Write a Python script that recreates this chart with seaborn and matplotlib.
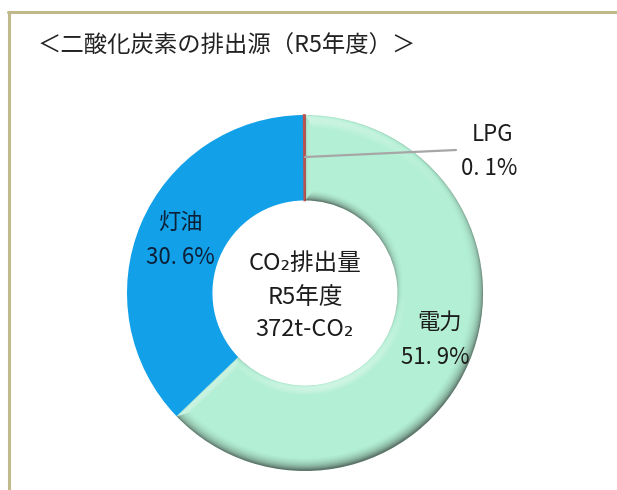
import numpy as np
import matplotlib
matplotlib.use("Agg")
import matplotlib.pyplot as plt
from matplotlib.lines import Line2D
import seaborn as sns

# Sources of CO2 emissions, fiscal R5 (percent of total)
sources = ["電力", "灯油", "LPG"]
shares = [51.9, 30.6, 0.1]
share_labels = ["51. 9%", "30. 6%", "0. 1%"]
colors = ["#b2efd4", "#12a0e8", "#c0504d"]

title = "＜二酸化炭素の排出源（R5年度）＞"
center_lines = ["CO₂排出量", "R5年度", "372t-CO₂"]

sns.set_theme(style="white")
plt.rcParams["font.family"] = ["Noto Sans CJK JP", "DejaVu Sans"]

W, H = 617, 490
fig = plt.figure(figsize=(W / 100, H / 100), dpi=100)
fig.patch.set_facecolor("white")

# donut placement (pixels): centre and outer radius
cx, cy, R = 305, 293, 178
ax = fig.add_axes([(cx - R) / W, (H - cy - R) / H, 2 * R / W, 2 * R / H])
ax.set_axis_off()

ring_width = 0.48
wedges, _ = ax.pie(
    shares,
    colors=colors,
    startangle=90,
    counterclock=False,
    radius=1.0,
    wedgeprops=dict(width=ring_width, linewidth=0),
)
# make the tiny LPG slice visible as a thin line
wedges[2].set_edgecolor(colors[2])
wedges[2].set_linewidth(1.2)
ax.set_xlim(-1, 1)
ax.set_ylim(-1, 1)
ax.set_aspect("equal")

# bevel shading on the electricity wedge
r_in = 1.0 - ring_width
theta1, theta2 = wedges[0].theta1, wedges[0].theta2
n = 700
g = np.linspace(-1.02, 1.02, n)
X, Y = np.meshgrid(g, g)
r = np.hypot(X, Y) + 1e-9
ux, uy = X / r, Y / r

bo, bi, be = 0.075, 0.06, 0.045
t_out = np.clip((r - (1.0 - bo)) / bo, 0, 1)
t_in = np.clip(((r_in + bi) - r) / bi, 0, 1)


def end_band(theta_b, sign):
    """Bevel band along one radial end of the wedge (half-line only)."""
    th = np.deg2rad(theta_b)
    ex, ey = np.cos(th), np.sin(th)
    px, py = -ey * sign, ex * sign
    d = -(X * px + Y * py)
    along = X * ex + Y * ey
    t = np.clip((be - d) / be, 0, 1) * (d >= -0.01) * (along > 0)
    return t, px, py


t_e1, p1x, p1y = end_band(theta1, -1)
t_e2, p2x, p2y = end_band(theta2, 1)

tx = np.zeros_like(r)
hx = np.zeros_like(r)
hy = np.zeros_like(r)
ones = np.ones_like(r)
for t, vx, vy in [(t_out, ux, uy), (t_in, -ux, -uy),
                  (t_e1, p1x * ones, p1y * ones),
                  (t_e2, p2x * ones, p2y * ones)]:
    m = t > tx
    tx = np.where(m, t, tx)
    hx = np.where(m, vx, hx)
    hy = np.where(m, vy, hy)

phi = np.arcsin(np.clip(tx, 0, 1) ** 1.3)
nx, ny, nz = np.sin(phi) * hx, np.sin(phi) * hy, np.cos(phi)
L = np.array([-0.25, 0.8, 1.0])
L = L / np.linalg.norm(L)
diff = nx * L[0] + ny * L[1] + nz * L[2] - L[2]

rgba = np.zeros((n, n, 4))
dark = diff < 0
rgba[..., :3] = np.where(dark[..., None], 0.15, 1.0)
rgba[..., 3] = np.where(dark, np.clip(-diff * 0.6, 0, 0.62), np.clip(diff * 1.6, 0, 0.75))
im = ax.imshow(rgba, extent=(-1.02, 1.02, -1.02, 1.02), origin="lower",
               interpolation="bilinear", zorder=3)
im.set_clip_path(wedges[0])


def d(px, py):
    return (px - cx) / R, (cy - py) / R


txt = dict(color="#1c1c1c", fontsize=16, ha="center", va="center", zorder=5)

# slice labels
ax.text(*d(440, 322), sources[0], **txt)
ax.text(*d(435, 357), share_labels[0], **txt)
ax.text(*d(180, 222), sources[1], **{**txt, "color": "#0c2038"})
ax.text(*d(180, 257), share_labels[1], **{**txt, "color": "#0c2038"})
ax.text(*d(493, 134), sources[2], clip_on=False, **txt)
ax.text(*d(489, 168), share_labels[2], clip_on=False, **txt)

# leader line for the LPG slice
x0, y0 = d(305, 157)
x1, y1 = d(456, 150)
ax.add_line(Line2D([x0, x1], [y0, y1], color="#a6a6a6", lw=1.6, zorder=4, clip_on=False))

# centre annotation
for (py, s) in zip([263, 297, 330], center_lines):
    ax.text(*d(305, py), s, fontsize=17, **{k: v for k, v in txt.items() if k != "fontsize"})

# title
fig.text(38 / W, 1 - 46 / H, title, fontsize=16.8, color="#222222", ha="left", va="center")

# panel frame (top and left edges)
frame = "#bfb98b"
fig.add_artist(Line2D([8 / W, 1.0], [1 - 12.5 / H, 1 - 12.5 / H], transform=fig.transFigure,
                      color=frame, lw=2.2))
fig.add_artist(Line2D([8.5 / W, 8.5 / W], [0, 1 - 12.5 / H], transform=fig.transFigure,
                      color=frame, lw=2.2))

fig.savefig("out.png", dpi=100, facecolor="white")
